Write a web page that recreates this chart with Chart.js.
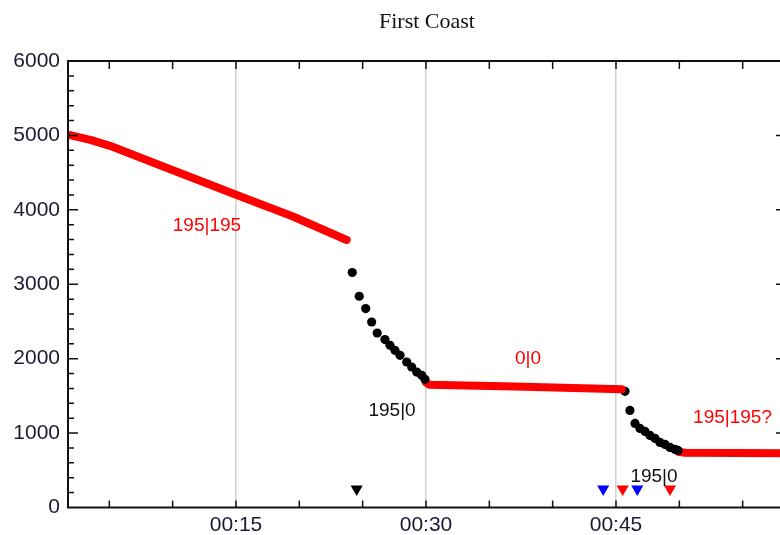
<!DOCTYPE html>
<html>
<head>
<meta charset="utf-8">
<script src="https://cdn.jsdelivr.net/npm/chart.js@4.4.0/dist/chart.umd.min.js"></script>
<style>
  html, body { margin: 0; padding: 0; background: #fff; overflow: hidden; }
  #wrap { width: 800px; height: 535px; }
</style>
</head>
<body>
<div id="wrap"><canvas id="myChart"></canvas></div>
<script>
// time in minutes
const red1Times = [1.74, 3.5, 5.05, 9.0, 15.06, 19.5, 23.74];
const red1Values = [5010, 4940, 4860, 4600, 4200, 3910, 3595];

const black1Times = [24.18, 24.73, 25.24, 25.71, 26.15, 26.76, 27.16, 27.55, 27.95, 28.48, 28.87, 29.27, 29.66, 29.92];
const black1Values = [3158, 2839, 2673, 2493, 2345, 2256, 2180, 2112, 2045, 1955, 1888, 1820, 1776, 1722];

const red2Times = [30.0, 30.3, 37.0, 45.45];
const red2Values = [1680, 1650, 1625, 1590];

const black2Times = [45.71, 46.1, 46.5, 46.89, 47.29, 47.68, 48.08, 48.47, 48.87, 49.26, 49.66, 49.9];
const black2Values = [1561, 1305, 1130, 1063, 1022, 969, 928, 874, 848, 807, 780, 767];

const red3Times = [49.95, 50.5, 58.5];
const red3Values = [745, 735, 728];

// event markers along the bottom
const markerLevel = 249;
const blackMarkerTimes = [24.53];
const blueMarkerTimes = [43.99, 46.68];
const redMarkerTimes = [45.53, 49.26];

// text notes
const redNoteTexts = ['195|195', '0|0', '195|195?'];
const redNoteTimes = [12.71, 38.05, 54.2];
const redNoteValues = [3780, 2005, 1211];
const blackNoteTexts = ['195|0', '195|0'];
const blackNoteTimes = [27.32, 48.0];
const blackNoteValues = [1305, 417];

const xTickValues = [15, 30, 45];
const xTickLabels = ['00:15', '00:30', '00:45'];

const pts = (ts, vs) => ts.map((t, i) => ({ x: t, y: vs[i] }));
const lvl = ts => ts.map(t => ({ x: t, y: markerLevel }));

const RED = '#ff0000';
const labelFont = { family: 'Liberation Sans', size: 21 };

const lineSet = (ts, vs) => ({
  type: 'line', data: pts(ts, vs), borderColor: RED, borderWidth: 8,
  borderCapStyle: 'round', borderJoinStyle: 'round', pointRadius: 0, tension: 0
});
const dotSet = (ts, vs) => ({
  type: 'scatter', data: pts(ts, vs), backgroundColor: '#000', borderWidth: 0,
  pointRadius: 4.6, pointStyle: 'circle'
});
const markSet = (ts, color) => ({
  type: 'scatter', data: lvl(ts), backgroundColor: color, borderWidth: 0,
  pointStyle: 'triangle', rotation: 180, pointRadius: 7
});

// frame with inward ticks plus the text notes
const framePlugin = {
  id: 'frame',
  afterDatasetsDraw(chart) {
    const { ctx, chartArea: a, scales: { x, y } } = chart;
    ctx.save();
    ctx.strokeStyle = '#111';
    ctx.lineWidth = 2;
    ctx.strokeRect(a.left, a.top, a.right - a.left, a.bottom - a.top);
    ctx.lineWidth = 1.5;
    ctx.beginPath();
    for (let t = 5; t < x.max; t += 5) {
      const px = x.getPixelForValue(t);
      if (px <= a.left + 1) continue;
      ctx.moveTo(px, a.bottom); ctx.lineTo(px, a.bottom - 7);
      ctx.moveTo(px, a.top); ctx.lineTo(px, a.top + 8);
    }
    for (let v = 200; v < 6000; v += 200) {
      const py = y.getPixelForValue(v);
      const len = v % 1000 === 0 ? 10 : 6;
      ctx.moveTo(a.left, py); ctx.lineTo(a.left + len, py);
      ctx.moveTo(a.right, py); ctx.lineTo(a.right - len, py);
    }
    ctx.stroke();

    ctx.font = '19px "Liberation Sans"';
    ctx.textAlign = 'center';
    ctx.textBaseline = 'middle';
    ctx.fillStyle = RED;
    redNoteTexts.forEach((s, i) => ctx.fillText(s, x.getPixelForValue(redNoteTimes[i]), y.getPixelForValue(redNoteValues[i])));
    ctx.fillStyle = '#111';
    blackNoteTexts.forEach((s, i) => ctx.fillText(s, x.getPixelForValue(blackNoteTimes[i]), y.getPixelForValue(blackNoteValues[i])));
    ctx.restore();
  }
};

const ctx = document.getElementById('myChart').getContext('2d');
const myChart = new Chart(ctx, {
  data: {
    datasets: [
      lineSet(red1Times, red1Values),
      dotSet(black1Times, black1Values),
      lineSet(red2Times, red2Values),
      dotSet(black2Times, black2Values),
      lineSet(red3Times, red3Values),
      markSet(blackMarkerTimes, '#000'),
      markSet(blueMarkerTimes, '#0000ff'),
      markSet(redMarkerTimes, RED)
    ]
  },
  options: {
    responsive: true,
    maintainAspectRatio: false,
    animation: false,
    layout: { padding: { left: 0, right: 14, top: 0, bottom: 0 } },
    plugins: {
      legend: { display: false },
      tooltip: { enabled: false },
      title: {
        display: true, text: 'First Coast', fullSize: false, color: '#111',
        font: { family: 'Liberation Serif', size: 22, weight: 'normal' },
        padding: { top: 9, bottom: 25.6 }
      }
    },
    scales: {
      x: {
        type: 'linear', min: 1.74, max: 58.42,
        afterBuildTicks: s => { s.ticks = xTickValues.map(v => ({ value: v })); },
        ticks: {
          callback: (v, i) => xTickLabels[i], font: labelFont, color: '#1b1b33',
          padding: 5, maxRotation: 0, autoSkip: false
        },
        grid: { color: '#d0d0d0', lineWidth: 1.5, drawTicks: false },
        border: { display: false },
        afterFit: s => { s.height = 27.5; }
      },
      y: {
        min: 0, max: 6000,
        ticks: { stepSize: 1000, font: labelFont, color: '#1b1b33', padding: 8, callback: v => String(v) },
        grid: { display: false, drawTicks: false },
        border: { display: false },
        afterFit: s => { s.width = 68; }
      }
    }
  },
  plugins: [framePlugin]
});
</script>
</body>
</html>
